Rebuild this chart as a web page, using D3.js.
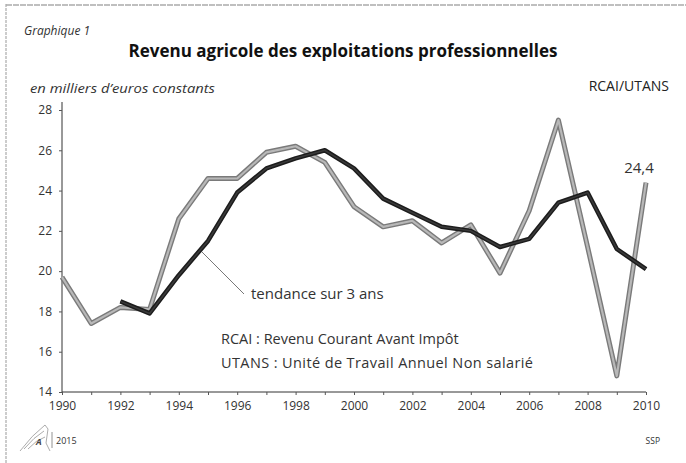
<!DOCTYPE html>
<html><head><meta charset="utf-8">
<script src="https://cdn.jsdelivr.net/npm/d3@7"></script>
<style>
body{margin:0;background:#fff;}
svg{display:block;font-family:"Open Sans","Noto Sans",sans-serif;}
</style></head><body>
<svg id="c" width="686" height="463"></svg>
<script>
const years = d3.range(1990, 2011);
const rcai = [19.7,17.4,18.2,18.1,22.6,24.6,24.6,25.9,26.2,25.4,23.2,22.2,22.5,21.4,22.3,19.9,23.0,27.5,21.2,14.8,24.4];
const trendYears = d3.range(1992, 2011);
const trend = [18.5,17.9,19.8,21.5,23.9,25.1,25.6,26.0,25.1,23.6,22.9,22.2,22.0,21.2,21.6,23.4,23.9,21.1,20.1];
const yTicks = [14,16,18,20,22,24,26,28];
const xTickLabels = d3.range(1990, 2011, 2);

const svg = d3.select("#c");
const x = d3.scaleLinear().domain([1990, 2010]).range([62, 646]);
const y = d3.scaleLinear().domain([14, 28]).range([392, 110]);

// scanned page border
svg.append("line").attr("x1",6).attr("x2",6).attr("y1",4).attr("y2",463)
  .attr("stroke","#999").attr("stroke-width",1).attr("stroke-dasharray","3,1");
svg.append("line").attr("x1",6).attr("x2",686).attr("y1",5).attr("y2",5)
  .attr("stroke","#aaa").attr("stroke-width",1.5).attr("stroke-dasharray","6,1");

// texts
svg.append("text").attr("x",24).attr("y",35).attr("font-size",12).attr("font-style","italic").attr("fill","#333").text("Graphique 1");
svg.append("text").attr("x",343).attr("y",57).attr("text-anchor","middle").attr("font-size",17).attr("font-weight","bold").attr("fill","#111").text("Revenu agricole des exploitations professionnelles");
svg.append("text").attr("x",30).attr("y",93).attr("font-size",13).attr("font-style","italic").attr("fill","#333")
  .attr("textLength",185).attr("lengthAdjust","spacingAndGlyphs").text("en milliers d’euros constants");
svg.append("text").attr("x",669).attr("y",91).attr("text-anchor","end").attr("font-size",14).attr("fill","#222").text("RCAI/UTANS");

// axes
const yAxis = d3.axisLeft(y).tickValues(yTicks).tickSize(3).tickFormat(d3.format("d"));
const gy = svg.append("g").attr("transform","translate(62,0)").call(yAxis);
gy.select(".domain").attr("d","M0,102V392").attr("stroke","#333");
gy.selectAll(".tick line").attr("stroke","#555");
gy.selectAll(".tick text").attr("font-size",12).attr("fill","#333").attr("x",-10).attr("font-family","Open Sans");

const xAxis = d3.axisBottom(x).tickValues(years).tickSize(3).tickFormat(d => xTickLabels.includes(d) ? d : "");
const gx = svg.append("g").attr("transform","translate(0,392)").call(xAxis);
gx.select(".domain").attr("d","M62,0H646").attr("stroke","#333");
gx.selectAll(".tick line").attr("stroke","#555");
gx.selectAll(".tick text").attr("font-size",12).attr("fill","#333").attr("y",9).attr("font-family","Open Sans");

const line = d3.line().x(d => x(d[0])).y(d => y(d[1]));
const rcaiData = years.map((yr,i)=>[yr, rcai[i]]);
const trendData = trendYears.map((yr,i)=>[yr, trend[i]]);

// grey RCAI/UTANS line (double-edged look)
svg.append("path").datum(rcaiData).attr("d",line).attr("fill","none")
  .attr("stroke","#7a7a7a").attr("stroke-width",5).attr("stroke-linejoin","round");
svg.append("path").datum(rcaiData).attr("d",line).attr("fill","none")
  .attr("stroke","#b8b8b8").attr("stroke-width",2.2).attr("stroke-linejoin","round");

// black trend line
svg.append("path").datum(trendData).attr("d",line).attr("fill","none")
  .attr("stroke","#1c1c1c").attr("stroke-width",4.5).attr("stroke-linejoin","round");
svg.append("path").datum(trendData).attr("d",line).attr("fill","none")
  .attr("stroke","#3a3a3a").attr("stroke-width",1.5).attr("stroke-linejoin","round");

// annotation
svg.append("line").attr("x1",202).attr("y1",252).attr("x2",244).attr("y2",294).attr("stroke","#555").attr("stroke-width",0.8);
svg.append("text").attr("x",251).attr("y",299).attr("font-size",15).attr("fill","#333").text("tendance sur 3 ans");
svg.append("text").attr("x",221).attr("y",344).attr("font-size",14.5).attr("fill","#333").text("RCAI : Revenu Courant Avant Impôt");
svg.append("text").attr("x",221).attr("y",368).attr("font-size",14.5).attr("fill","#333")
  .attr("textLength",312).attr("lengthAdjust","spacing").text("UTANS : Unité de Travail Annuel Non salarié");
svg.append("text").attr("x",x(2010)-7).attr("y",y(rcai[20])-10).attr("text-anchor","middle").attr("font-size",15).attr("fill","#333").text("24,4");

// footer
const logo = svg.append("g").attr("transform","translate(20,425)").attr("fill","none").attr("stroke","#888").attr("stroke-width",0.7);
logo.append("path").attr("d","M0,26 Q12,10 25,0 L28,4 L26,18 L30,26");
logo.append("path").attr("d","M4,24 Q14,12 24,6");
logo.append("path").attr("d","M8,24 Q16,15 25,12");
logo.append("text").attr("x",16).attr("y",20).attr("stroke","none").attr("fill","#444").attr("font-size",9).attr("font-weight","bold").attr("font-style","italic").text("A");
svg.append("line").attr("x1",52).attr("x2",52).attr("y1",432).attr("y2",448).attr("stroke","#777").attr("stroke-width",0.8);
svg.append("text").attr("x",56).attr("y",444).attr("font-size",9).attr("fill","#333").text("2015");
svg.append("text").attr("x",660).attr("y",444).attr("text-anchor","end").attr("font-size",8.5).attr("fill","#333").text("SSP");
</script>
</body></html>
